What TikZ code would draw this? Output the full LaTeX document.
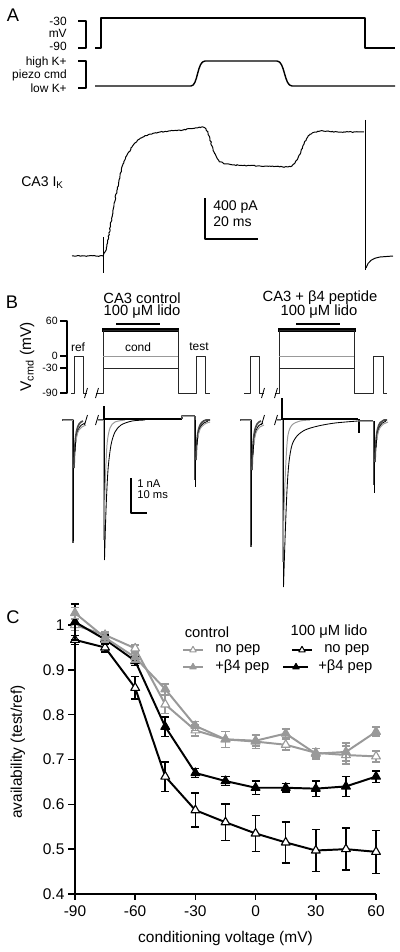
\documentclass[tikz,border=0pt]{standalone}
\usepackage{fontspec}
\setmainfont{Liberation Sans}
\usetikzlibrary{arrows.meta, decorations.pathmorphing, plotmarks}
\tikzset{>=stealth}
\definecolor{tracegray}{gray}{0.6}
\definecolor{darktrace}{gray}{0.3}
\tikzset{
  panellbl/.style={font=\fontsize{13}{15}\selectfont, inner sep=0pt},
  tinytxt/.style={font=\fontsize{8.5}{10}\selectfont, inner sep=0pt},
  txt/.style={font=\fontsize{10}{12}\selectfont, inner sep=0pt},
  hdtxt/.style={font=\fontsize{10.5}{12}\selectfont, inner sep=0pt},
  ticktxt/.style={font=\fontsize{7.5}{9}\selectfont, inner sep=0pt},
  axtxt/.style={font=\fontsize{11}{13}\selectfont, inner sep=0pt},
  noisy/.style={decorate, decoration={random steps, segment length=1pt, amplitude=0.35pt}},
  proto/.style={line width=0.5pt, black!85},
  gtrace/.style={line width=1.8pt, darktrace},
  hollow/.style={line width=0.5pt, gray!75},
  ltrace/.style={line width=0.7pt, tracegray},
  btrace/.style={line width=0.6pt, black},
  kblock/.style={line width=2pt, black},
  brk/.style={line width=0.6pt, black},
  ctlline/.style={line width=1.4pt, tracegray},
  lidoline/.style={line width=1.4pt, black},
}

\begin{document}
\begin{tikzpicture}[x=0.025cm, y=-0.025cm, line join=round]
\useasboundingbox (0,0) rectangle (400,952);
\pgfmathsetseed{7}

% ---------- A : protocol
\node[panellbl] (labA) at (13,15) {A};
\node[tinytxt, anchor=east] (vhi) at (67,21) {-30};
\node[tinytxt, anchor=east] (vunit) at (67,33) {mV};
\node[tinytxt, anchor=east] (vlo) at (67,46) {-90};
\draw[line width=1pt] (78,21) -- (86,21) -- (86,48) -- (78,48);
\draw[line width=1pt] (95,48) -- (101,48) -- (101,18) -- (365,18) -- (365,48) -- (395,48);

\node[tinytxt, anchor=east] (khi) at (67,62) {high K+};
\node[tinytxt, anchor=east] (piezo) at (67,75) {piezo cmd};
\node[tinytxt, anchor=east] (klo) at (67,88) {low K+};
\draw[line width=1pt] (78,61) -- (86,61) -- (86,88) -- (78,88);
\draw[line width=1pt] (95,86) -- (191,86) .. controls (198,86) and (197,61) .. (205,61)
  -- (277,61) .. controls (285,61) and (284,86) .. (292,86) -- (395,86);

% ---------- A : current
\draw[line width=0.7pt, noisy] (72,256) -- (103,256);
\draw[line width=0.5pt] (103,237) -- (103,273);
\draw[line width=0.7pt, noisy] (103,256) -- (105,252) -- (107,246) -- (109,234) -- (112,217)
  -- (114,204) -- (117,190) -- (120,176) -- (123,164) -- (127,155) -- (132,147) -- (137,141)
  -- (143,137) -- (150,134) -- (160,132) -- (170,131) -- (183,130) -- (195,128) -- (203,127)
  -- (206,129) -- (208,133) -- (210,139) -- (212,146) -- (214,152) -- (217,158) -- (220,162)
  -- (226,164) -- (233,165) -- (260,166) -- (288,167) -- (292,166) -- (295,163) -- (298,158)
  -- (301,151) -- (304,144) -- (307,138) -- (310,134) -- (315,132) -- (320,131) -- (340,132)
  -- (364,132);
\draw[line width=0.5pt] (365,120) -- (365,270);
\draw[line width=0.7pt] (366,268) .. controls (368,261) and (373,258) .. (380,257) -- (393,256);

\node[txt, anchor=west] (cak) at (21,183) {CA3 I\textsubscript{K}};
\draw[line width=1pt] (205,198) -- (205,239) -- (258,239);
\node[txt, anchor=west] (sbA1) at (213,207) {400 pA};
\node[txt, anchor=west] (sbA2) at (213,222) {20 ms};

% ---------- B : headings and bars
\node[panellbl] (labB) at (12,302) {B};
\node[hdtxt] (ctl) at (142,298) {CA3 control};
\node[hdtxt] (ctllido) at (142,312) {100 μM lido};
\node[hdtxt] (pep) at (320,298) {CA3 + β4 peptide};
\node[hdtxt] (peplido) at (319,312) {100 μM lido};
\draw[line width=2pt] (116,324) -- (160,324);
\draw[line width=2.6pt] (102,330) -- (179,330);
\draw[line width=2pt] (296,324) -- (340,324);
\draw[line width=2.6pt] (278,330) -- (356,330);

% ---------- B : Vcmd axis
\node[axtxt, rotate=90] (vcmd) at (27,357) {V\textsubscript{cmd} (mV)};
\draw[line width=0.8pt] (60,321) -- (67,321) -- (67,393) -- (60,393);
\foreach \yy in {356,368}
  \draw[line width=0.8pt] (60,\yy) -- (67,\yy);
\foreach \yy/\vv in {321/60, 356/0, 368/-30, 393/-90}
  \node[ticktxt, anchor=east] (vt\vv) at (58,\yy) {\vv};

% ---------- B : protocols
\node[tinytxt] (lref) at (78,347) {ref};
\node[tinytxt] (lcond) at (138,347) {cond};
\node[tinytxt] (ltest) at (199,347) {test};
\draw[proto] (71,393) -- (74,393) -- (74,356) -- (83,356) -- (83,393) -- (87,393);
\draw[proto] (96,393) -- (103,393) -- (103,330) -- (178,330) -- (178,393) -- (196,393)
  -- (196,356) -- (205,356) -- (205,393) -- (210,393);
\draw[proto, tracegray] (103,356) -- (178,356);
\draw[proto] (103,368) -- (178,368);

\draw[proto] (244,393) -- (250,393) -- (250,356) -- (259,356) -- (259,393) -- (264,393);
\draw[proto] (275,393) -- (279,393) -- (279,330) -- (354,330) -- (354,393) -- (373,393)
  -- (373,356) -- (383,356) -- (383,393) -- (387,393);
\draw[proto, tracegray] (279,356) -- (354,356);
\draw[proto] (279,368) -- (354,368);

\foreach \bx in {86,97,263,276} {
  \draw[brk] (\bx-1.5,398) -- (\bx+1.5,388);
  \draw[brk] (\bx-1.5,425) -- (\bx+1.5,415);
}

% ---------- B : currents, control
\draw[gtrace] (62,420) -- (73,420) -- (73,543);
\draw[hollow] (63,420) -- (73,420);
\draw[btrace] (73,420) -- (73,541);
\draw[gtrace, line width=1.2pt] (74,468) .. controls (75,430) and (77,423) .. (83,421);
\draw[btrace] (75,452) .. controls (76,430) and (79,425) .. (85,423);
\draw[ltrace] (76,442) .. controls (77,430) and (80,427) .. (86,425);
\draw[gtrace] (97,420) -- (103,420);
\draw[hollow] (97,420) -- (103,420);
\draw[kblock] (104,406) -- (104,420);
\draw[ltrace, line width=1.4pt] (104,420) -- (104,540);
\draw[btrace] (104.5,420) -- (104.5,560);
\draw[ltrace] plot[smooth] coordinates {(104,540) (105,490) (107,445) (110,428) (115,422) (125,420)};
\draw[btrace] plot[smooth] coordinates {(104.5,560) (106,510) (108,470) (111,445) (115,432)
  (121,425) (132,421) (145,420)};
\draw[kblock] (104,419) -- (182,419);
\draw[gtrace, line width=1.4pt] (182,419) -- (182,416) -- (195,416);
\draw[hollow] (182,416) -- (195,416);
\draw[gtrace] (195,416) -- (195,480);
\draw[btrace] (195.5,420) -- (195.5,487);
\draw[gtrace, line width=1.2pt] (196,460) .. controls (197,428) and (199,422) .. (206,420) -- (210,420);
\draw[btrace] (197,445) .. controls (198,428) and (201,423) .. (208,421);
\draw[ltrace] (198,438) .. controls (199,428) and (202,424) .. (210,422);

% ---------- B : currents, beta4 peptide
\draw[gtrace] (240,420) -- (251,420) -- (251,547);
\draw[hollow] (241,420) -- (251,420);
\draw[btrace] (251,420) -- (251,545);
\draw[gtrace, line width=1.2pt] (252,470) .. controls (253,430) and (255,423) .. (261,421);
\draw[btrace] (253,455) .. controls (254,430) and (257,425) .. (263,423);
\draw[ltrace] (254,445) .. controls (255,430) and (258,427) .. (264,425);
\draw[gtrace] (276,420) -- (281,420);
\draw[hollow] (276,420) -- (281,420);
\draw[kblock] (282,398) -- (282,420);
\draw[ltrace, line width=1.4pt] (283,420) -- (283,562);
\draw[btrace] (283.5,420) -- (283.5,587);
\draw[ltrace] plot[smooth] coordinates {(283,562) (284,510) (286,460) (288,435) (292,425)
  (300,421) (310,420)};
\draw[btrace] plot[smooth] coordinates {(283.5,587) (285,540) (287,490) (289,462) (292,445)
  (297,436) (305,430) (318,426) (335,423) (358,421)};
\draw[kblock] (283,419) -- (358,419);
\draw[kblock] (359,419) -- (359,433);
\draw[gtrace, line width=1.4pt] (358,421) -- (373,421);
\draw[hollow] (360,421) -- (373,421);
\draw[gtrace] (374,421) -- (374,485);
\draw[btrace] (374.5,421) -- (374.5,493);
\draw[gtrace, line width=1.2pt] (375,462) .. controls (376,428) and (378,422) .. (384,420) -- (387,420);
\draw[btrace] (376,448) .. controls (377,428) and (380,423) .. (386,421);
\draw[ltrace] (377,440) .. controls (378,428) and (381,424) .. (388,422);

\draw[line width=1pt] (131,478) -- (131,513) -- (147,513);
\node[font=\fontsize{8}{9}\selectfont, inner sep=0pt, anchor=west] (sbB1) at (137,484) {1 nA};
\node[font=\fontsize{8}{9}\selectfont, inner sep=0pt, anchor=west] (sbB2) at (137,495) {10 ms};

% ---------- C : availability
\node[panellbl] (labC) at (13,617) {C};
\node[axtxt, rotate=90] (ylab) at (18,752) {availability (test/ref)};
\begin{scope}[shift={(255.6,1073.2)}, x=0.050175cm, y=11.2cm]
  \draw[line width=1pt] (-90,1.0) -- (-90,0.4) -- (60,0.4);
  \foreach \a in {0.4,0.5,0.6,0.7,0.8,0.9,1}
    \draw[line width=1pt] (-90,\a) -- (-93.5,\a) node[axtxt, anchor=east, xshift=-2pt] (yt\a) {\a};
  \foreach \v in {-90,-60,-30,0,30,60}
    \draw[line width=1pt] (\v,0.4) -- (\v,0.387) node[axtxt, anchor=north, yshift=-4pt] (xt\v) {\v};
  \node[axtxt] (xlab) at (-15,0.30) {conditioning voltage (mV)};

  % lido, no peptide
  \foreach \v/\a/\e in {-90/0.967/0.01, -75/0.950/0.01, -60/0.860/0.025, -45/0.662/0.033,
      -30/0.587/0.038, -15/0.560/0.041, 0/0.535/0.04, 15/0.515/0.046, 30/0.497/0.047,
      45/0.500/0.047, 60/0.494/0.048}
    \draw[line width=1.1pt] (\v,\a-\e) -- (\v,\a+\e) (\v-2,\a-\e) -- (\v+2,\a-\e) (\v-2,\a+\e) -- (\v+2,\a+\e);
  \draw[lidoline] plot[mark=triangle*, mark size=3.6pt, mark options={line width=0.8pt, fill=white}]
    coordinates {(-90,0.967) (-75,0.950) (-60,0.860) (-45,0.662) (-30,0.587) (-15,0.560)
    (0,0.535) (15,0.515) (30,0.497) (45,0.500) (60,0.494)};

  % control, no peptide
  \foreach \v/\a/\e in {-90/1.0/0.012, -75/0.978/0.008, -60/0.948/0.008, -45/0.823/0.02,
      -30/0.765/0.012, -15/0.745/0.018, 0/0.740/0.015, 15/0.733/0.012, 30/0.715/0.01,
      45/0.710/0.02, 60/0.707/0.012}
    \draw[line width=1.1pt, tracegray] (\v,\a-\e) -- (\v,\a+\e) (\v-2,\a-\e) -- (\v+2,\a-\e) (\v-2,\a+\e) -- (\v+2,\a+\e);
  \draw[ctlline] plot[mark=triangle*, mark size=3.6pt, mark options={line width=0.8pt, fill=white}]
    coordinates {(-90,1.0) (-75,0.978) (-60,0.948) (-45,0.823) (-30,0.765) (-15,0.745)
    (0,0.740) (15,0.733) (30,0.715) (45,0.710) (60,0.707)};

  % lido, beta4 peptide
  \foreach \v/\a/\e in {-90/1.007/0.04, -75/0.968/0.01, -60/0.920/0.01, -45/0.773/0.022,
      -30/0.670/0.01, -15/0.652/0.01, 0/0.637/0.015, 15/0.637/0.01, 30/0.635/0.017,
      45/0.640/0.022, 60/0.662/0.013}
    \draw[line width=1.1pt] (\v,\a-\e) -- (\v,\a+\e) (\v-2,\a-\e) -- (\v+2,\a-\e) (\v-2,\a+\e) -- (\v+2,\a+\e);
  \draw[lidoline] plot[mark=triangle*, mark size=3.6pt, mark options={line width=0.8pt, fill=black}]
    coordinates {(-90,1.007) (-75,0.968) (-60,0.920) (-45,0.773) (-30,0.670) (-15,0.652)
    (0,0.637) (15,0.637) (30,0.635) (45,0.640) (60,0.662)};

  % control, beta4 peptide
  \foreach \v/\a/\e in {-90/1.027/0.012, -75/0.972/0.01, -60/0.928/0.01, -45/0.857/0.012,
      -30/0.775/0.01, -15/0.745/0.018, 0/0.742/0.012, 15/0.758/0.01, 30/0.713/0.012,
      45/0.717/0.02, 60/0.762/0.01}
    \draw[line width=1.1pt, tracegray] (\v,\a-\e) -- (\v,\a+\e) (\v-2,\a-\e) -- (\v+2,\a-\e) (\v-2,\a+\e) -- (\v+2,\a+\e);
  \draw[ctlline] plot[mark=triangle*, mark size=3.6pt, mark options={line width=0.8pt, fill=tracegray}]
    coordinates {(-90,1.027) (-75,0.972) (-60,0.928) (-45,0.857) (-30,0.775) (-15,0.745)
    (0,0.742) (15,0.758) (30,0.713) (45,0.717) (60,0.762)};
\end{scope}

% ---------- C : legend
\node[hdtxt] (lgctl) at (207,632) {control};
\node[hdtxt] (lglido) at (329,632) {100 μM lido};
\draw[ctlline, line width=1pt] (183,650) -- (203,650);
\draw[tracegray] plot[only marks, mark=triangle*, mark size=2.6pt, mark options={line width=0.7pt, fill=white}]
  coordinates {(193,650)};
\node[hdtxt, anchor=west] (lgc1) at (215,650) {no pep};
\draw[ctlline, line width=1pt] (183,667) -- (203,667);
\draw[tracegray] plot[only marks, mark=triangle*, mark size=2.6pt, mark options={line width=0.7pt, fill=tracegray}]
  coordinates {(193,667)};
\node[hdtxt, anchor=west] (lgc2) at (215,667) {+β4 pep};
\draw[lidoline, line width=0.8pt] (292,650) -- (312,650);
\draw plot[only marks, mark=triangle*, mark size=2.6pt, mark options={line width=0.7pt, fill=white}]
  coordinates {(302,650)};
\node[hdtxt, anchor=west] (lgl1) at (324,650) {no pep};
\draw[lidoline, line width=1.1pt] (283,667) -- (308,667);
\draw plot[only marks, mark=triangle*, mark size=2.6pt, mark options={line width=0.7pt, fill=black}]
  coordinates {(296,667)};
\node[hdtxt, anchor=west] (lgl2) at (318,667) {+β4 pep};
\end{tikzpicture}
\end{document}
